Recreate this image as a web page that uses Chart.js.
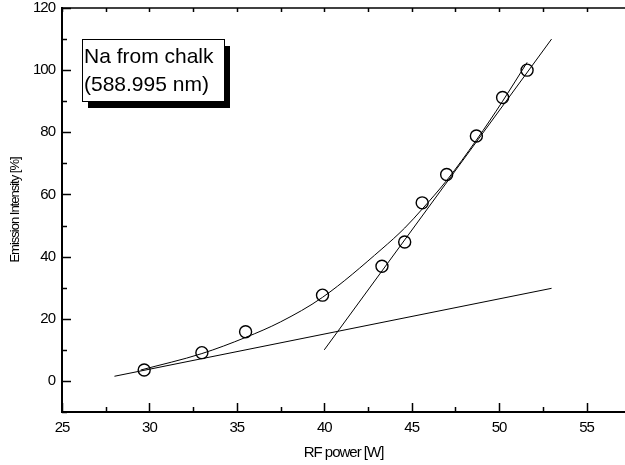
<!DOCTYPE html>
<html>
<head>
<meta charset="utf-8">
<script src="https://cdn.jsdelivr.net/npm/chart.js@4/dist/chart.umd.min.js"></script>
<style>
  html, body { margin: 0; padding: 0; background: #fff; }
  #wrap { width: 625px; height: 465px; }
</style>
</head>
<body>
<div id="wrap"><canvas id="myChart" width="625" height="465"></canvas></div>
<script>
// measured points
const powerW = [29.7, 33.0, 35.5, 39.9, 43.3, 44.6, 45.6, 47.0, 48.7, 50.2, 51.6];
const intensity = [3.5, 9.1, 15.8, 27.6, 36.9, 44.7, 57.3, 66.4, 78.8, 91.2, 100.0];

// fitted curve
const curveX = [29.5, 33.0, 35.5, 37.5, 39.9, 43.3, 44.6, 45.6, 47.0, 48.7, 50.2, 51.6];
const curveY = [3.5, 8.8, 14.0, 19.0, 26.9, 42.5, 49.2, 55.3, 64.5, 77.5, 90.0, 102.5];

// the two straight lines
const baseLineX = [28, 53];
const baseLineY = [1.5, 29.8];
const steepLineX = [40, 53];
const steepLineY = [10, 110];

const xTicks = [25, 30, 35, 40, 45, 50, 55];
const yTicks = [0, 20, 40, 60, 80, 100, 120];

const sans = "'Liberation Sans', Arial, sans-serif";

const pts = (xs, ys) => xs.map((x, i) => ({ x: x, y: ys[i] }));

// the original labels are squeezed, tighten the letters a bit
const squeeze = {
    id: 'squeeze',
    beforeDraw(chart) { chart.ctx.letterSpacing = '-1px'; }
};

const frame = {
    id: 'frame',
    afterDraw(chart) {
        const ctx = chart.ctx;
        const a = chart.chartArea;
        const sx = chart.scales.x, sy = chart.scales.y;
        ctx.save();
        ctx.strokeStyle = '#000';

        // top border
        ctx.lineWidth = 1.5;
        ctx.beginPath();
        ctx.moveTo(a.left, a.top);
        ctx.lineTo(a.right, a.top);
        ctx.stroke();

        // inward ticks on x (bottom + top)
        const xStep = xTicks[1] - xTicks[0];
        for (let v = xTicks[0]; v <= sx.max; v += xStep / 2) {
            const px = Math.round(sx.getPixelForValue(v)) + 0.5;
            const major = xTicks.includes(v);
            ctx.beginPath();
            ctx.moveTo(px, a.bottom);
            ctx.lineTo(px, a.bottom - (major ? 9 : 5));
            ctx.moveTo(px, a.top);
            ctx.lineTo(px, a.top + 4);
            ctx.stroke();
        }
        // inward ticks on y
        const yStep = yTicks[1] - yTicks[0];
        for (let v = yTicks[0] - yStep / 2; v <= sy.max; v += yStep / 2) {
            const py = Math.round(sy.getPixelForValue(v)) + 0.5;
            const major = yTicks.includes(v);
            ctx.beginPath();
            ctx.moveTo(a.left, py);
            ctx.lineTo(a.left + (major ? 9 : 5), py);
            ctx.stroke();
        }

        // label box with drop shadow
        const bx = 82, by = 39, bw = 142, bh = 62;
        ctx.fillStyle = '#000';
        ctx.fillRect(bx + 6, by + 7, bw, bh);
        ctx.fillStyle = '#fff';
        ctx.fillRect(bx, by, bw, bh);
        ctx.lineWidth = 1;
        ctx.strokeRect(bx + 0.5, by + 0.5, bw, bh);
        ctx.fillStyle = '#000';
        ctx.letterSpacing = '0px';
        ctx.font = '21px ' + sans;
        ctx.textBaseline = 'alphabetic';
        ctx.textAlign = 'left';
        ctx.fillText('Na from chalk', bx + 2, 63);
        ctx.fillText('(588.995 nm)', bx + 2, 91);
        ctx.restore();
    }
};

new Chart(document.getElementById('myChart'), {
    type: 'scatter',
    data: {
        datasets: [
            {
                label: 'measured',
                data: pts(powerW, intensity),
                showLine: false,
                pointStyle: 'circle',
                pointRadius: 6,
                pointBorderWidth: 1.4,
                pointBorderColor: '#000',
                pointBackgroundColor: 'rgba(0,0,0,0)'
            },
            {
                label: 'fit',
                data: pts(curveX, curveY),
                showLine: true,
                pointRadius: 0,
                borderColor: '#000',
                borderWidth: 1,
                cubicInterpolationMode: 'monotone'
            },
            {
                label: 'base',
                data: pts(baseLineX, baseLineY),
                showLine: true,
                pointRadius: 0,
                borderColor: '#000',
                borderWidth: 1
            },
            {
                label: 'steep',
                data: pts(steepLineX, steepLineY),
                showLine: true,
                pointRadius: 0,
                borderColor: '#000',
                borderWidth: 1
            }
        ]
    },
    options: {
        responsive: false,
        animation: false,
        events: [],
        layout: { autoPadding: false, padding: { top: 8, right: 0, left: 0, bottom: 0 } },
        plugins: {
            legend: { display: false },
            tooltip: { enabled: false }
        },
        scales: {
            x: {
                type: 'linear',
                min: 25,
                max: 57.2,
                afterFit: (s) => { s.height = 53; s.paddingLeft = 0; s.paddingRight = 0; },
                afterBuildTicks: (s) => { s.ticks = xTicks.map(v => ({ value: v })); },
                grid: { display: false, drawTicks: false },
                border: { display: true, color: '#000', width: 2 },
                ticks: {
                    color: '#000',
                    padding: 7,
                    maxRotation: 0,
                    font: { family: sans, size: 15 }
                },
                title: {
                    display: true,
                    text: 'RF power [W]',
                    color: '#000',
                    font: { family: sans, size: 15 },
                    padding: { top: 0, bottom: 3 }
                }
            },
            y: {
                type: 'linear',
                min: -10,
                max: 120,
                afterFit: (s) => { s.width = 62; s.paddingTop = 0; s.paddingBottom = 0; },
                afterBuildTicks: (s) => { s.ticks = yTicks.map(v => ({ value: v })); },
                grid: { display: false, drawTicks: false },
                border: { display: true, color: '#000', width: 2 },
                ticks: {
                    color: '#000',
                    padding: 7,
                    font: { family: sans, size: 15 }
                },
                title: {
                    display: true,
                    text: 'Emission Intensity [%]',
                    color: '#000',
                    font: { family: sans, size: 13 },
                    padding: { top: 8, bottom: 0 }
                }
            }
        }
    },
    plugins: [squeeze, frame]
});
</script>
</body>
</html>
